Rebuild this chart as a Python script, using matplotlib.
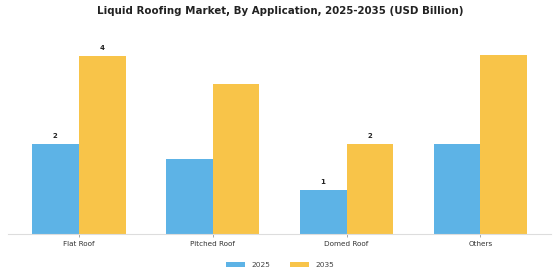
import matplotlib
matplotlib.use("Agg")
import matplotlib.pyplot as plt
import numpy as np

categories = ["Flat Roof", "Pitched Roof", "Domed Roof", "Others"]
values_2025 = [2.02, 1.69, 0.99, 2.01]
values_2035 = [4.0, 3.36, 2.02, 4.02]
label_2025 = ["2", "", "1", ""]
label_2035 = ["4", "", "2", ""]

blue = "#5DB3E6"
yellow = "#F8C449"

fig = plt.figure(figsize=(5.6, 2.8), dpi=100)
ax = fig.add_axes([0.01375, 0.164, 0.971, 0.693])

x = np.arange(len(categories))
w = 0.35
b1 = ax.bar(x - w / 2, values_2025, w, color=blue, label="2025")
b2 = ax.bar(x + w / 2, values_2035, w, color=yellow, label="2035")

for bars, labels in ((b1, label_2025), (b2, label_2035)):
    for bar, lab in zip(bars, labels):
        if lab:
            ax.annotate(lab, (bar.get_x() + bar.get_width() / 2, bar.get_height()),
                        xytext=(0, 3.5), textcoords="offset points",
                        ha="center", va="bottom", fontsize=5, fontweight="bold",
                        color="#222222")

ax.set_xlim(-0.53, 3.53)
ax.set_ylim(0, 4.35)
ax.set_xticks(x)
ax.set_xticklabels(categories, fontsize=5.2, color="#333333")
ax.tick_params(axis="x", length=2, width=0.6, color="#999999", pad=3)
ax.set_yticks([])
for s in ("top", "right", "left"):
    ax.spines[s].set_visible(False)
ax.spines["bottom"].set_color("#dddddd")
ax.spines["bottom"].set_linewidth(0.8)

fig.suptitle("Liquid Roofing Market, By Application, 2025-2035 (USD Billion)",
             fontsize=7.4, fontweight="bold", y=0.98, color="#222222")

fig.legend(loc="center", bbox_to_anchor=(0.5, 0.053), ncol=2, fontsize=5.4,
           frameon=False, handlelength=2.6, handleheight=0.6, handletextpad=0.8,
           columnspacing=2.6, labelcolor="#444444")

fig.savefig("out.png", dpi=100)
